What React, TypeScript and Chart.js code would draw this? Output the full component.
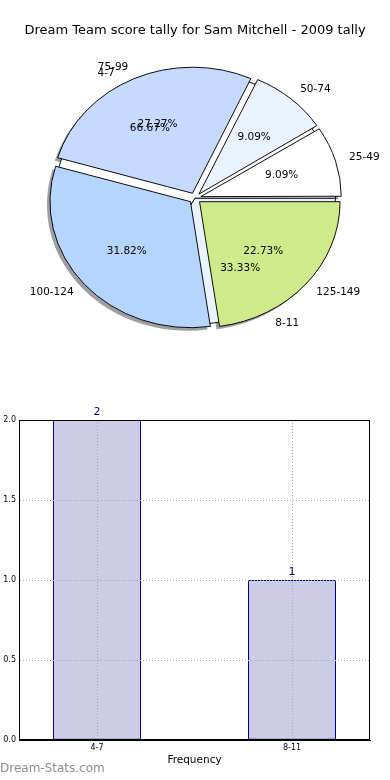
import React, { useEffect, useRef } from 'react';
import { Chart, registerables } from 'chart.js';

Chart.register(...registerables);

const TITLE = 'Dream Team score tally for Sam Mitchell - 2009 tally';
const scoreRanges = ['25-49', '50-74', '75-99', '100-124', '125-149'];
const scoreCounts = [2, 2, 6, 7, 5];
const scoreColors = ['#ffffff', '#eaf1ff', '#c6d9ff', '#b5d5ff', '#cfea8b'];
const tallyRanges = ['4-7', '8-11'];
const tallyCounts = [2, 1];
const tallyColors = ['#ffffff', '#eaf1ff'];
const yTicks = [0, 0.5, 1, 1.5, 2];

const FONT = '"DejaVu Sans", "Liberation Sans", sans-serif';
const PIE_R = 140.5;
const SY = 0.897;
const EXPLODE = 6;

function rev<T>(a: T[]): T[] {
  return a.slice().reverse();
}

export default function App() {
  const shadowRef = useRef<HTMLCanvasElement>(null);
  const baseRef = useRef<HTMLCanvasElement>(null);
  const pieRef = useRef<HTMLCanvasElement>(null);
  const barRef = useRef<HTMLCanvasElement>(null);

  useEffect(() => {
    const titleOpts = (color: string) => ({
      display: true,
      text: TITLE,
      color,
      font: { family: FONT, size: 13, weight: 'normal' as any },
      padding: { top: 22.7, bottom: 0 },
    });

    const ellipse = {
      id: 'ellipse',
      afterDatasetsUpdate(chart: any) {
        // keep every exploded wedge at the same radius (Chart.js enlarges narrow exploded arcs)
        chart.getDatasetMeta(0).data.forEach((arc: any) => {
          const off = ((arc.options && arc.options.offset) || 0) / 4;
          const fix = 1 - Math.sin(Math.min(Math.PI, arc.circumference || 0));
          arc.outerRadius = PIE_R - off * fix;
        });
      },
      beforeDatasetsDraw(chart: any) {
        const a = chart.getDatasetMeta(0).data[0];
        const ctx = chart.ctx;
        ctx.save();
        ctx.translate(a.x, a.y);
        ctx.scale(1, SY);
        ctx.translate(-a.x, -a.y);
      },
      afterDatasetsDraw(chart: any) {
        chart.ctx.restore();
      },
    };

    const pieOptions = (titleColor: string): any => ({
      animation: false,
      responsive: false,
      events: [],
      rotation: 90,
      radius: PIE_R,
      layout: { padding: 0 },
      plugins: {
        legend: { display: false },
        tooltip: { enabled: false },
        title: titleOpts(titleColor),
      },
    });

    const shadow = new Chart(shadowRef.current!, {
      type: 'pie',
      data: {
        labels: rev(scoreRanges),
        datasets: [
          {
            data: rev(scoreCounts),
            backgroundColor: 'rgba(60,64,72,0.5)',
            borderWidth: 0,
            offset: EXPLODE * 4,
          },
        ],
      },
      options: pieOptions('rgba(0,0,0,0)'),
      plugins: [ellipse],
    });

    const base = new Chart(baseRef.current!, {
      type: 'pie',
      data: {
        labels: rev(tallyRanges),
        datasets: [
          {
            data: rev(tallyCounts),
            backgroundColor: rev(tallyColors),
            borderColor: '#000000',
            borderWidth: 1,
            offset: 0,
          },
        ],
      },
      options: pieOptions('rgba(0,0,0,0)'),
      plugins: [ellipse],
    });

    const drawPieText = (ctx: CanvasRenderingContext2D, chart: any, labels: string[], values: number[]) => {
      const arcs = chart.getDatasetMeta(0).data;
      const total = values.reduce((s, v) => s + v, 0);
      ctx.save();
      ctx.fillStyle = '#000000';
      ctx.font = `10.5px ${FONT}`;
      ctx.textBaseline = 'middle';
      arcs.forEach((arc: any, i: number) => {
        const mid = (arc.startAngle + arc.endAngle) / 2;
        const R = PIE_R;
        const c = Math.cos(mid);
        const s = Math.sin(mid);
        const rl = EXPLODE + 1.1 * R;
        ctx.textAlign = c > 0 ? 'left' : 'right';
        ctx.fillText(labels[i], arc.x + rl * c, arc.y + rl * s * SY);
        const rp = EXPLODE + 0.6 * R;
        ctx.textAlign = 'center';
        ctx.fillText(((values[i] / total) * 100).toFixed(2) + '%', arc.x + rp * c, arc.y + rp * s * SY);
      });
      ctx.restore();
    };

    const pieText = {
      id: 'pieText',
      afterDraw(chart: any) {
        drawPieText(chart.ctx, base, rev(tallyRanges), rev(tallyCounts));
        drawPieText(chart.ctx, chart, rev(scoreRanges), rev(scoreCounts));
      },
    };

    const pie = new Chart(pieRef.current!, {
      type: 'pie',
      data: {
        labels: rev(scoreRanges),
        datasets: [
          {
            data: rev(scoreCounts),
            backgroundColor: rev(scoreColors),
            borderColor: '#000000',
            borderWidth: 1,
            offset: EXPLODE * 4,
          },
        ],
      },
      options: pieOptions('#000000'),
      plugins: [ellipse, pieText],
    });

    const frame = {
      id: 'frame',
      afterDraw(chart: any) {
        const { left, top, right, bottom } = chart.chartArea;
        const ctx = chart.ctx;
        ctx.save();
        ctx.strokeStyle = '#000000';
        ctx.lineWidth = 1;
        const l = Math.round(left) + 0.5;
        const t = Math.round(top) + 0.5;
        ctx.strokeRect(l, t, Math.round(right) - 1 - Math.round(left), Math.round(bottom) - 1 - Math.round(top));
        ctx.restore();
      },
    };

    const barLabels = {
      id: 'barLabels',
      afterDraw(chart: any) {
        const ctx = chart.ctx;
        const bars = chart.getDatasetMeta(0).data;
        ctx.save();
        ctx.fillStyle = '#000080';
        ctx.font = `11px ${FONT}`;
        ctx.textAlign = 'center';
        ctx.textBaseline = 'middle';
        bars.forEach((b: any, i: number) => {
          ctx.fillText(String(tallyCounts[i]), b.x, b.y - 8);
        });
        ctx.restore();
      },
    };

    const borderOpts = { display: true, color: '#000000', width: 1, dash: [1, 2], z: 2 };
    const gridOpts = { color: '#a8a8a8', lineWidth: 1, drawTicks: false, offset: false, z: 1 };

    const bar = new Chart(barRef.current!, {
      type: 'bar',
      data: {
        datasets: [
          {
            data: tallyCounts.map((v, i) => ({ x: i, y: v })) as any,
            backgroundColor: '#ccccE6',
            borderColor: '#000080',
            borderWidth: 1,
            borderSkipped: false,
            barPercentage: 1,
            categoryPercentage: 88 / 195,
          },
        ],
      },
      options: {
        animation: false,
        responsive: false,
        events: [],
        layout: { padding: { top: 20, right: 20, left: 0, bottom: 0 } },
        plugins: { legend: { display: false }, tooltip: { enabled: false } },
        scales: {
          x: {
            type: 'linear',
            min: -0.4,
            max: 1.4,
            offset: false,
            afterBuildTicks: (s: any) => {
              s.ticks = tallyRanges.map((_, i) => ({ value: i }));
            },
            ticks: {
              callback: (v: any) => tallyRanges[Math.round(Number(v))] ?? '',
              font: { family: FONT, size: 8 },
              color: '#000000',
              padding: 3,
              maxRotation: 0,
              autoSkip: false,
              z: 2,
            },
            grid: gridOpts,
            border: borderOpts,
            title: {
              display: true,
              text: 'Frequency',
              color: '#000000',
              font: { family: FONT, size: 10.5 },
              padding: { top: 0, bottom: 13.7 },
            },
            afterFit: (s: any) => {
              s.height = 40;
            },
          } as any,
          y: {
            min: 0,
            max: 2,
            afterBuildTicks: (s: any) => {
              s.ticks = yTicks.map((v) => ({ value: v }));
            },
            ticks: {
              callback: (v: any) => Number(v).toFixed(1),
              font: { family: FONT, size: 8 },
              color: '#000000',
              padding: 3,
              z: 2,
            },
            grid: gridOpts,
            border: borderOpts,
            afterFit: (s: any) => {
              s.width = 19;
            },
          } as any,
        },
      },
      plugins: [frame, barLabels],
    });

    return () => {
      pie.destroy();
      base.destroy();
      shadow.destroy();
      bar.destroy();
    };
  }, []);

  return (
    <div
      style={{
        position: 'absolute',
        left: 0,
        top: 0,
        width: 390,
        height: 780,
        background: '#ffffff',
        overflow: 'hidden',
      }}
    >
      <canvas ref={shadowRef} width={390} height={358} style={{ position: 'absolute', left: -3, top: 3 }} />
      <canvas ref={baseRef} width={390} height={358} style={{ position: 'absolute', left: 0, top: 0 }} />
      <canvas ref={pieRef} width={390} height={358} style={{ position: 'absolute', left: 0, top: 0 }} />
      <canvas ref={barRef} width={390} height={380} style={{ position: 'absolute', left: 0, top: 400 }} />
      <div
        style={{
          position: 'absolute',
          left: 0,
          top: 761,
          fontFamily: FONT,
          fontSize: 12,
          color: '#8c8c8c',
          lineHeight: '14px',
          whiteSpace: 'nowrap',
        }}
      >
        Dream-Stats.com
      </div>
    </div>
  );
}
